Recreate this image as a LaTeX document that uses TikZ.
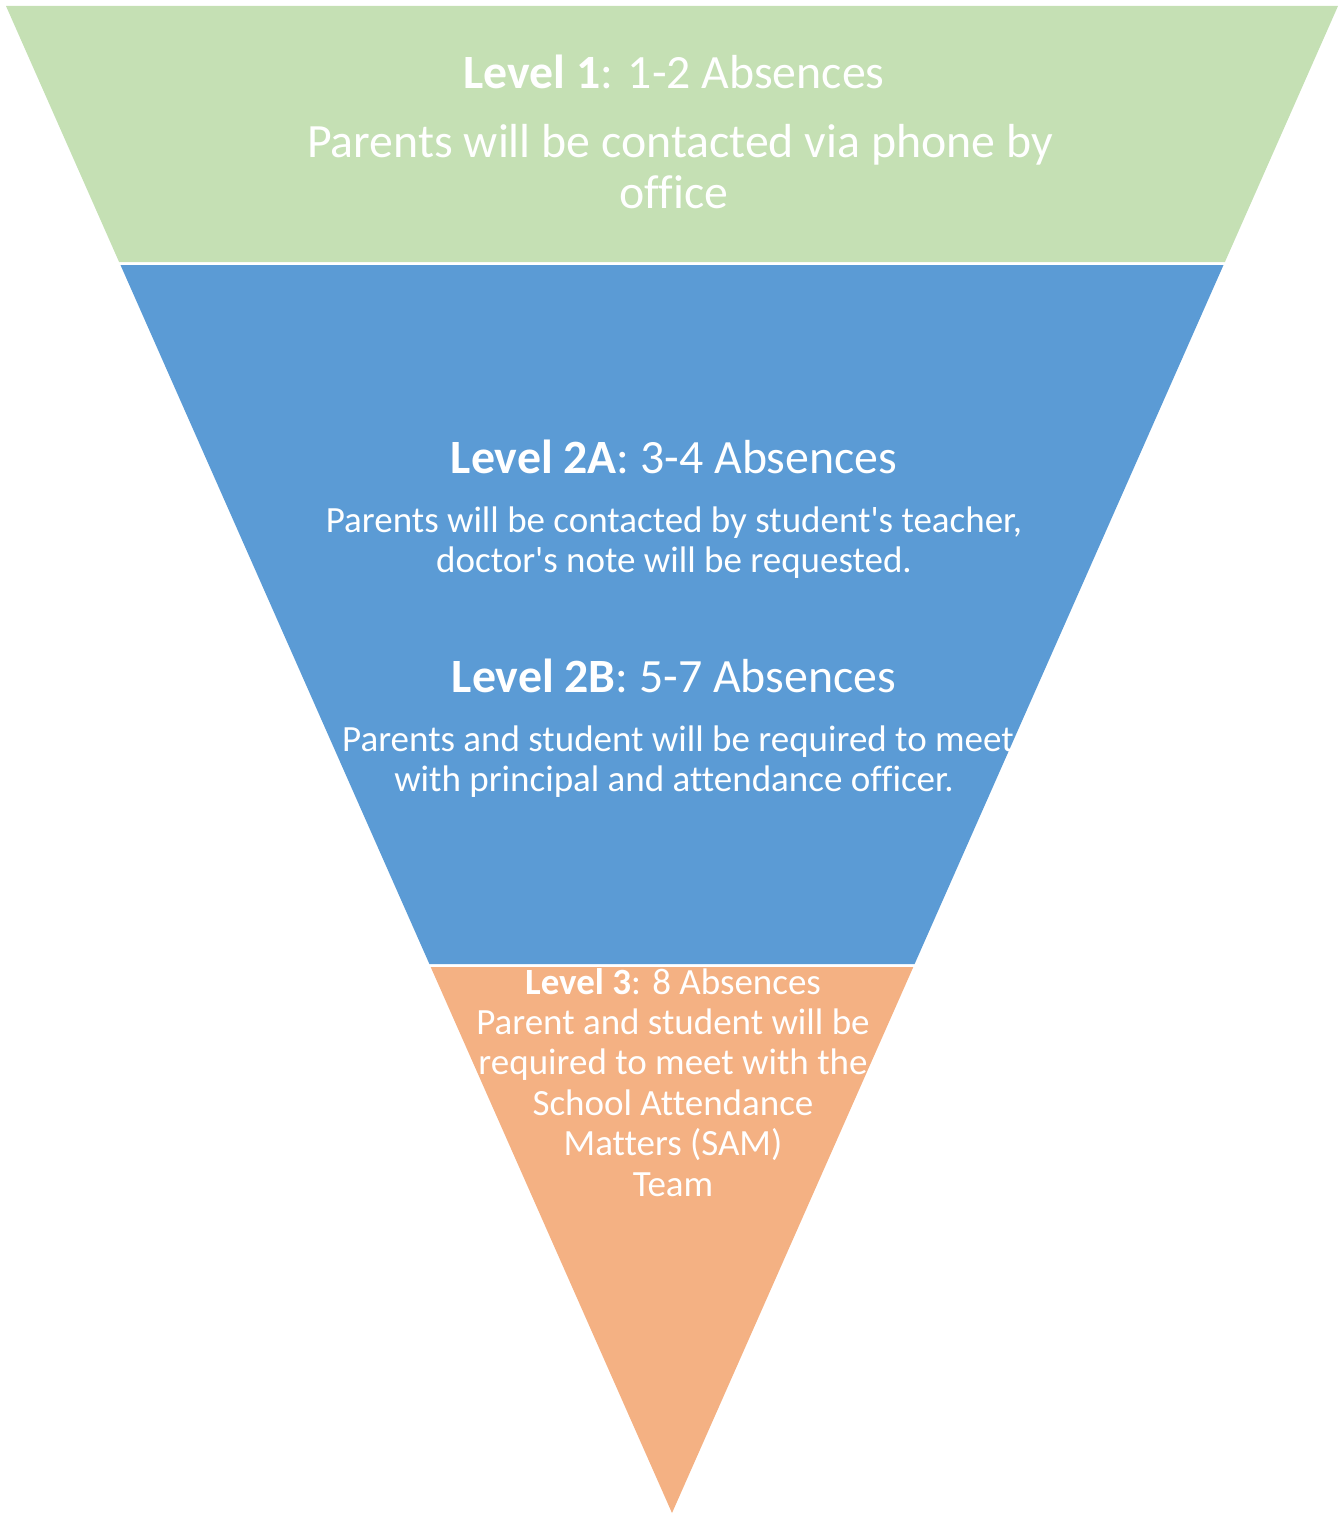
\documentclass[tikz,border=0pt]{standalone}
\usepackage{fontspec}
\setmainfont{Carlito}[Ligatures={NoCommon,TeXOff}]
\definecolor{lvlgreen}{HTML}{C5E0B4}
\definecolor{lvlblue}{HTML}{5B9BD5}
\definecolor{lvlorange}{HTML}{F4B183}
\tikzset{
  band/.style={draw=none},
  bigtxt/.style={text=white, anchor=base, inner sep=0pt, font=\fontsize{23.9}{28}\selectfont},
  smalltxt/.style={text=white, anchor=base, inner sep=0pt, font=\fontsize{18.5}{22}\selectfont}
}
\begin{document}
\begin{tikzpicture}[x=0.5pt,y=-0.5pt]
\useasboundingbox (0,0) rectangle (1343,1514);
% bands of the inverted pyramid
\fill[band, lvlgreen] (6,6) -- (1338,6) -- (1224.9,262) -- (119.1,262) -- cycle;
\fill[band, lvlblue] (120.5,265) -- (1223.5,265) -- (914.6,964) -- (429.4,964) -- cycle;
\fill[band, lvlorange] (430.7,967) -- (913.3,967) -- (672,1513) -- cycle;
% Level 1
\node[bigtxt] (l1h) at (674,89) {\textbf{Level 1}: 1-2 Absences};
\node[bigtxt] (l1a) at (680,158) {Parents will be contacted via phone by};
\node[bigtxt] (l1b) at (674,209) {office};
% Level 2A
\node[bigtxt] (l2ah) at (674,473) {\textbf{Level 2A}: 3-4 Absences};
\node[smalltxt] (l2aa) at (674,532) {Parents will be contacted by student's teacher,};
\node[smalltxt] (l2ab) at (674,572) {doctor's note will be requested.};
% Level 2B
\node[bigtxt] (l2bh) at (674,692) {\textbf{Level 2B}: 5-7 Absences};
\node[smalltxt] (l2ba) at (678,751) {Parents and student will be required to meet};
\node[smalltxt] (l2bb) at (674,791) {with principal and attendance officer.};
% Level 3
\node[smalltxt] (l3h) at (673,994) {\textbf{Level 3}: 8 Absences};
\node[smalltxt] (l3a) at (673,1034) {Parent and student will be};
\node[smalltxt] (l3b) at (673,1074) {required to meet with the};
\node[smalltxt] (l3c) at (673,1115) {School Attendance};
\node[smalltxt] (l3d) at (673,1155) {Matters (SAM)};
\node[smalltxt] (l3e) at (673,1196) {Team};
\end{tikzpicture}
\end{document}
